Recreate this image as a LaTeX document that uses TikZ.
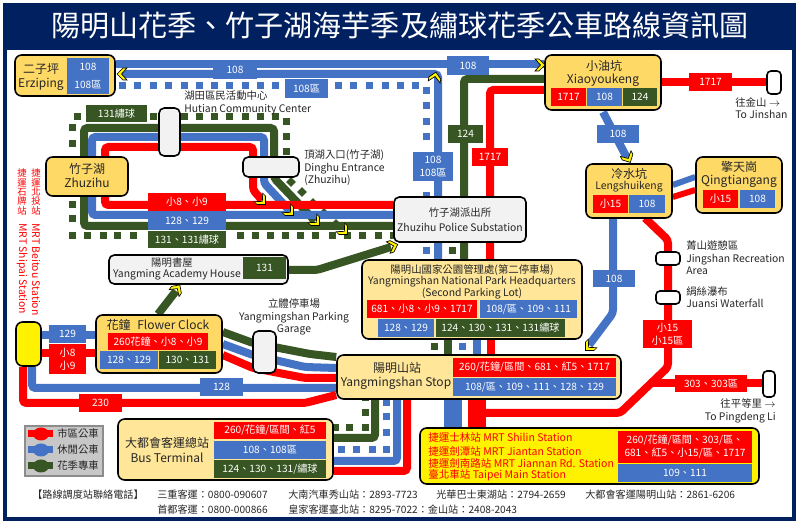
\documentclass[tikz,border=0pt]{standalone}
\usepackage{fontspec}
\setmainfont{Noto Sans CJK TC}
\usetikzlibrary{positioning,backgrounds,shapes.geometric}

\definecolor{navy}{HTML}{002060}
\definecolor{busred}{HTML}{FF0000}
\definecolor{busblue}{HTML}{4472C4}
\definecolor{busgreen}{HTML}{375623}
\definecolor{boxgold}{HTML}{FFD966}
\definecolor{boxpale}{HTML}{FFE699}
\definecolor{boxgrey}{HTML}{F2F2F2}

\newcommand{\tagfont}{\fontsize{7.6}{9.6}\selectfont}
\newcommand{\stafont}{\fontsize{9}{11}\selectfont}
\newcommand{\minifont}{\fontsize{7.8}{9.4}\selectfont}

\begin{document}
\begin{tikzpicture}[
  x=0.75pt, y=-0.75pt,
  wh/.style 2 args={minimum width=#1*0.75pt, minimum height=#2*0.75pt},
  redtag/.style={fill=busred, text=white, font=\tagfont, inner sep=0pt, align=center},
  bluetag/.style={fill=busblue, text=white, font=\tagfont, inner sep=0pt, align=center},
  greentag/.style={fill=busgreen, text=white, font=\tagfont, inner sep=0pt, align=center},
  goldbox/.style={fill=boxgold, draw=black, line width=1.2pt, rounded corners=5pt, inner sep=0pt},
  palebox/.style={fill=boxpale, draw=black, line width=1.2pt, rounded corners=5pt, inner sep=0pt},
  greybox/.style={fill=boxgrey, draw=black, line width=1.2pt, rounded corners=4pt, inner sep=0pt},
  whitebox/.style={fill=white, draw=black, line width=1.2pt, rounded corners=3pt, inner sep=0pt},
  yellowbox/.style={fill=yellow, draw=black, line width=1.2pt, rounded corners=5pt, inner sep=0pt},
  redbus/.style={draw=busred, line width=6pt, rounded corners=2.5pt},
  bluebus/.style={draw=busblue, line width=6pt, rounded corners=2.5pt},
  greenbus/.style={draw=busgreen, line width=6pt, rounded corners=2.5pt},
  stext/.style={font=\stafont, inner sep=0pt, text=black!85},
  mtext/.style={font=\minifont, inner sep=0pt, text=black!85, align=left},
  mrttext/.style={font=\fontsize{7.9}{9.4}\selectfont, inner sep=0pt, text=busred, anchor=west},
  chev/.pic={\filldraw[fill=yellow, draw=black, line width=.5pt]
    (-5,-6) -- (-1,-6) -- (5,0) -- (-1,6) -- (-5,6) -- (0.5,0) -- cycle;}
]
  \useasboundingbox (0,0) rectangle (800,523);

  % --- stations ---
  \foreach \name/\cx/\cy/\w/\h/\kind in {
    erziping/65/75.5/100/41/goldbox, zhuzihu/87/176.5/82/39/goldbox,
    xiaoyou/603/82.5/116/55/goldbox, lengshui/629/191/86/54/goldbox,
    qingtian/739/185/86/56/goldbox, flower/159/344/126/58/goldbox,
    academy/198.5/269.5/179/29/greybox, police/460/219.5/132/45/greybox,
    hutian/169.5/132/21/48/greybox, dinghu/271/167/56/20/greybox,
    parking/264.5/352/23/42/greybox,
    parkhq/472/299.5/220/79/palebox, ymstop/479/377/284/44/palebox,
    terminal/225.5/449.5/215/61/palebox,
    mrtbox/589.5/456/339/56/yellowbox, shipai/28.5/344/25/44/yellowbox,
    jingshan/668/258.5/24/13/whitebox, juansi/668/297.5/24/13/whitebox,
    jinshan/774/82.5/14/23/whitebox, pingdeng/769/384/12/26/whitebox}
    \node[\kind, wh={\w}{\h}] (\name) at (\cx,\cy) {};

  % --- route tags ---
  \foreach \name/\cx/\cy/\w/\h/\kind/\txt in {
    tagErzA/88/67/42/18/bluetag/108, tagErzB/88/85/42/18/bluetag/108區,
    tagTopA/235/69.5/44/19/bluetag/108, tagTopB/306.5/88.5/43/19/bluetag/108區,
    tagTopC/468/65.5/42/19/bluetag/108, tagHutian/116.5/113.5/61/17/greentag/131繡球,
    tagZhuR/187/202/78/18/redtag/小8、小9, tagZhuB/187/221/78/18/bluetag/128、129,
    tagZhuG/187/239.5/78/17/greentag/131、131繡球,
    tagMidB/433/166.5/40/29/bluetag/{108\\108區}, tagMidG/465.5/134/35/18/greentag/124,
    tagMidR/490/157/36/18/redtag/1717,
    tagXiaR/568.5/97/35/18/redtag/1717, tagXiaB/604.5/97/35/18/bluetag/108,
    tagXiaG/640/97/34/18/greentag/124, tagJin/710.5/82/43/18/redtag/1717,
    tagDiag/618/134/42/18/bluetag/108,
    tagLenR/610.5/204/35/18/redtag/小15, tagLenB/647/204/36/18/bluetag/108,
    tagQinR/720.5/199/35/18/redtag/小15, tagQinB/757.5/199/35/18/bluetag/108,
    tagSouth/614/278.5/42/17/bluetag/108, tagXiao/667.5/334/49/28/redtag/{小15\\小15區},
    tagPing/711/383.5/72/17/redtag/303、303區,
    tagHqR/422/309/110/18/redtag/681、小8、小9、1717,
    tagHqB/528.5/309/97/18/bluetag/{108/區、109、111},
    tagHqC/406/328/56/18/bluetag/128、129,
    tagHqG/500.5/328/129/18/greentag/124、130、131、131繡球,
    tagStopR/534.5/367.5/163/19/redtag/{260/花鐘/區間、681、紅5、1717},
    tagStopB/534.5/387.5/163/18/bluetag/{108/區、109、111、128、129},
    tagTermR/270/430.5/112/17/redtag/{260/花鐘/區間、紅5},
    tagTermB/270/450/112/18/bluetag/108、108區,
    tagTermG/270/469/112/18/greentag/{124、130、131/繡球},
    tagMrtR/685/447/134/32/redtag/{260/花鐘/區間、303/區、\\681、紅5、小15/區、1717},
    tagMrtB/685/473/134/18/bluetag/109、111,
    tagFloR/158/341.5/100/17/redtag/260花鐘、小8、小9,
    tagFloB/129/360/58/18/bluetag/128、129, tagFloG/187.5/360/57/18/greentag/130、131,
    tagAca/264.5/268/43/22/greentag/131, tagShipB/67.5/334/37/18/bluetag/129,
    tagShipR/67.5/359/37/30/redtag/{小8\\小9}, tagYmsB/221.5/387/43/18/bluetag/128,
    tagYmsR/100.5/403/43/18/redtag/230}
    \node[\kind, wh={\w}{\h}] (\name) at (\cx,\cy) {\txt};

  % --- station names ---
  \node[stext] (erzipingZh) at (41,69) {二子坪};
  \node[stext] (erzipingEn) at (41,84) {Erziping};
  \node[stext] (zhuzihuZh) at (87,169) {竹子湖};
  \node[stext] (zhuzihuEn) at (87,183) {Zhuzihu};
  \node[stext] (xiaoyouZh) at (604,66) {小油坑};
  \node[stext] (xiaoyouEn) at (603,80) {Xiaoyoukeng};
  \node[stext] (lengshuiZh) at (629,174) {冷水坑};
  \node[stext, font=\minifont] (lengshuiEn) at (629,187) {Lengshuikeng};
  \node[stext] (qingtianZh) at (739,167) {擎天崗};
  \node[stext] (qingtianEn) at (739,181) {Qingtiangang};
  \node[mtext] (policeZh) at (460,213) {竹子湖派出所};
  \node[mtext] (policeEn) at (460,227) {Zhuzihu Police Substation};
  \node[mtext] (academyZh) at (172,263) {陽明書屋};
  \node[mtext] (academyEn) at (177,275) {Yangming Academy House};
  \node[stext] (flowerName) at (158,325) {花鐘\hspace{5pt}Flower Clock};
  \node[mtext] (hqZh) at (472,270) {陽明山國家公園管理處(第二停車場)};
  \node[mtext] (hqEn) at (472,282) {Yangmingshan National Park Headquarters};
  \node[mtext] (hqSub) at (472,294) {(Second Parking Lot)};
  \node[stext] (ymstopZh) at (397,368) {陽明山站};
  \node[stext] (ymstopEn) at (396,383) {Yangmingshan Stop};
  \node[stext] (terminalZh) at (167,443) {大都會客運總站};
  \node[stext] (terminalEn) at (167,458) {Bus Terminal};
  \node[mrttext] (mrtA) at (428,438) {捷運士林站 MRT Shilin Station};
  \node[mrttext] (mrtB) at (428,451) {捷運劍潭站 MRT Jiantan Station};
  \node[mrttext] (mrtC) at (428,463) {捷運劍南路站 MRT Jiannan Rd. Station};
  \node[mrttext] (mrtD) at (428,475) {臺北車站 Taipei Main Station};

  % --- side notes ---
  \node[mtext, anchor=west] (hutianTxt) at (184,103) {湖田區民活動中心\\Hutian Community Center};
  \node[mtext, anchor=west] (dinghuTxt) at (304,168) {頂湖入口(竹子湖)\\Dinghu Entrance\\(Zhuzihu)};
  \node[mtext, align=center] (parkingTxt) at (294,317) {立體停車場\\Yangmingshan Parking\\Garage};
  \node[mtext, anchor=west] (jingshanTxt) at (686,258) {菁山遊憩區\\Jingshan Recreation\\Area};
  \node[mtext, anchor=west] (juansiTxt) at (686,297) {絹絲瀑布\\Juansi Waterfall};
  \node[mtext, anchor=west] (jinshanTxt) at (735,108) {往金山 $\rightarrow$\\To Jinshan};
  \node[mtext, anchor=east, align=right] (pingdengTxt) at (776,411) {往平等里 $\rightarrow$\\To Pingdeng Li};
  \node[mtext, text=busred, align=center, font=\fontsize{7}{7}\selectfont] (beitouZh) at (36,192) {捷\\運\\北\\投\\站};
  \node[mtext, text=busred, align=center, font=\fontsize{7}{7}\selectfont] (shipaiZh) at (22,192) {捷\\運\\石\\牌\\站};
  \node[mtext, text=busred, rotate=-90, anchor=west] (beitouEn) at (36,223) {MRT Beitou Station};
  \node[mtext, text=busred, rotate=-90, anchor=west] (shipaiEn) at (22,223) {MRT Shipai Station};

  % --- legend ---
  \node[fill=black!22, draw=black!45, line width=.8pt, wh={78}{50}, inner sep=0pt] (legend) at (64,451) {};
  \foreach \name/\col/\y/\txt in {legR/busred/434/市區公車, legB/busblue/450/休閒公車, legG/busgreen/466/花季專車} {
    \fill[\col] (28,\y-3.5) rectangle (53,\y+3.5);
    \fill[\col] (41,\y) ellipse (8 and 6.5);
    \node[mtext, anchor=west] (\name) at (57,\y) {\txt};
  }

  % --- phone numbers ---
  \foreach \name/\x/\y/\txt in {
    telHead/32/495/【路線調度站聯絡電話】, telA/157/495/三重客運：0800-090607,
    telB/288/495/大南汽車秀山站：2893-7723, telC/436/495/光華巴士東湖站：2794-2659,
    telD/585/495/大都會客運陽明山站：2861-6206, telE/157/510/首都客運：0800-000866,
    telF/288/510/皇家客運臺北站：8295-7022：金山站：2408-2043}
    \node[mtext, font=\fontsize{7.6}{9}\selectfont, anchor=west] (\name) at (\x,\y) {\txt};

  % --- title ---
  \node[text=white, inner sep=0pt, font=\fontsize{21.8}{26}\selectfont] (title) at (400,26)
    {陽明山花季、竹子湖海芋季及繡球花季公車路線資訊圖};

  % --- arrow heads ---
  \foreach \x/\y/\ang in {122/74/180, 540/65/0, 435/77/80, 628/158/-62, 262/201/-45,
    290/212/-45, 316/222/-45, 344/231/-45, 393/246/18, 177/289/55, 589/347/-135}
    \pic[rotate=\ang] at (\x,\y) {chev};

  \begin{scope}[on background layer]
    % frame
    \draw[navy, line width=3pt] (5,5) rectangle (794,519);
    \fill[navy] (3,3) rectangle (796,50);

    % green square dots
    \foreach \x/\y in {77/117, 153/117, 184/117, 199/117, 214/117, 229/117, 245/117, 260/117, 275/117,
      286/122, 286/137, 286/152, 72/128, 72/144, 72/205, 72/219, 72/236,
      87/236, 103/236, 117/236, 133/236, 240/236, 255/236, 270/236, 285/236, 300/236,
      315/236, 332/236, 347/236, 362/236, 378/236, 393/236,
      452/251, 434/347, 335/428, 349/428, 365/428, 365/413, 365/398}
      \fill[busgreen] (\x-3.5,\y-3.5) rectangle (\x+3.5,\y+3.5);
    \foreach \x/\y in {291/182, 302/192, 313/203, 324/213, 336/224}
      \fill[busgreen, rotate around={45:(\x,\y)}] (\x-3.5,\y-3.5) rectangle (\x+3.5,\y+3.5);

    % blue square dots
    \foreach \x/\y in {122/86, 137/86, 153/86, 168/86, 184/86, 199/86, 214/86, 229/86, 245/86, 260/86, 275/86,
      338/86, 353/86, 369/86, 385/86, 400/86, 415/86, 426/91, 426/106, 426/122, 426/137,
      426/196, 426/251, 462/347, 386/403, 386/417, 386/433, 386/450, 372/450, 356/450, 341/450}
      \fill[busblue] (\x-3.5,\y-3.5) rectangle (\x+3.5,\y+3.5);

    % loop through Zhuzihu
    \draw[greenbus] (police.west |- 0,226) -- (84,226) -- (84,128) -- (274,128) -- (274,178) -- (315,221);
    \draw[bluebus] (police.west |- 0,215) -- (92,215) -- (92,137) -- (264,137) -- (264,183) -- (290,211);
    \draw[redbus] (police.west |- 0,205) -- (105,205) -- (105,147) -- (253,147) -- (253,190) -- (262,200);

    % north side
    \draw[bluebus] (erziping.east |- 0,64) -- (xiaoyou.west |- 0,64);
    \draw[bluebus] (122,74) -- (438,74) -- (438,0 |- parkhq.north);
    \draw[greenbus] (xiaoyou.west |- 0,79) -- (464,79) -- (464,0 |- parkhq.north);
    \draw[redbus] (xiaoyou.west |- 0,90) -- (490,90) -- (490,0 |- parkhq.north);
    \draw[redbus] (xiaoyou.east |- 0,82) -- (jinshan.west |- 0,82);
    \draw[bluebus] (603,112) -- (627,158);
    \draw[bluebus, line width=4.5pt] (lengshui.east |- 0,185) -- (qingtian.west |- 0,177);
    \draw[redbus, line width=4.5pt] (lengshui.east |- 0,197) -- (qingtian.west |- 0,190);

    % east side
    \draw[bluebus] (613,0 |- lengshui.south) -- (613,313) -- (589,345);
    \draw[redbus] (645,218) -- (668,240) -- (668,367) -- (620,413) -- (480,413);
    \draw[redbus] (650,383) -- (pingdeng.west |- 0,383);

    % between the headquarters and the stop
    \draw[greenbus] (448,0 |- parkhq.south) -- (448,0 |- ymstop.north);
    \draw[bluebus] (477,0 |- parkhq.south) -- (477,0 |- ymstop.north);
    \draw[redbus] (491,0 |- parkhq.south) -- (491,0 |- ymstop.north);
    \draw[draw=busblue, line width=13.5pt] (453,0 |- ymstop.south) -- (453,0 |- mrtbox.north);
    \draw[draw=busred, line width=13.5pt] (477,0 |- ymstop.south) -- (477,0 |- mrtbox.north);

    % stop to terminal
    \draw[greenbus] (375,0 |- ymstop.south) -- (375,438) -- (terminal.east |- 0,438);
    \draw[bluebus] (397,0 |- ymstop.south) -- (397,461) -- (terminal.east |- 0,461);
    \draw[redbus] (407,0 |- ymstop.south) -- (407,471) -- (terminal.east |- 0,471);

    % west side
    \draw[bluebus] (shipai.east |- 0,335) -- (flower.west |- 0,335);
    \draw[redbus] (shipai.east |- 0,353) -- (flower.west |- 0,353);
    \draw[bluebus] (32,0 |- shipai.south) -- (32,388) -- (ymstop.west |- 0,388);
    \draw[redbus] (23,0 |- shipai.south) -- (23,403) -- (305,403) -- (ymstop.west |- 0,395);
    \draw[greenbus] (flower.east |- 0,332) -- (253,343) -- (310,354) -- (ymstop.west |- 0,357);
    \draw[bluebus] (flower.east |- 0,344) -- (253,355) -- (305,367) -- (ymstop.west |- 0,368);
    \draw[redbus] (flower.east |- 0,355) -- (253,368) -- (305,378) -- (ymstop.west |- 0,378);
    \draw[greenbus] (158,0 |- flower.north) -- (176,291);
    \draw[greenbus] (academy.east |- 0,270) -- (317,270) -- (391,247);
  \end{scope}
\end{tikzpicture}
\end{document}
